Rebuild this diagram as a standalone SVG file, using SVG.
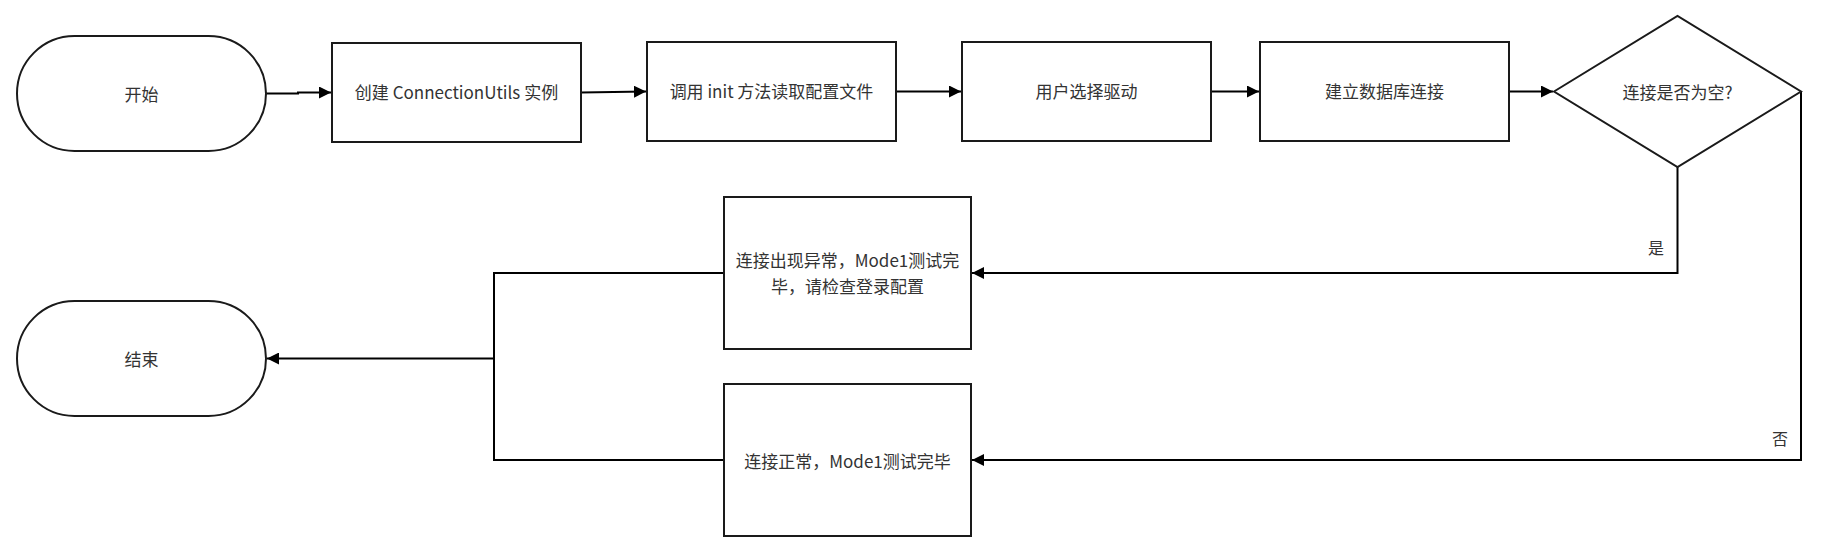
<svg xmlns="http://www.w3.org/2000/svg" width="1828" height="553" viewBox="0 0 1828 553">
<style>
.n{fill:#fff;stroke:#1a1a1a;stroke-width:2}
.t{font-family:"Noto Sans CJK SC","Noto Sans",sans-serif;font-size:17px;fill:#333;text-anchor:middle;dominant-baseline:central}
.c{fill:none;stroke:#000;stroke-width:2}
.lb{font-family:"Noto Sans CJK SC","Noto Sans",sans-serif;font-size:16px;fill:#333;text-anchor:middle;dominant-baseline:central}
</style>
<defs>
<marker id="ah" viewBox="0 0 10 10" refX="10" refY="5" markerWidth="6" markerHeight="6" markerUnits="strokeWidth" orient="auto">
<path d="M0,0 L10,5 L0,10 z" fill="#000"/>
</marker>
</defs>
<rect width="1828" height="553" fill="#fff"/>
<g id="connectors">
<path class="c" d="M266,93.5 L298,93.5 L298,92.5 L331,92.5" marker-end="url(#ah)"/>
<path class="c" d="M581,92.5 L646,91.5" marker-end="url(#ah)"/>
<path class="c" d="M896,91.5 L961,91.5" marker-end="url(#ah)"/>
<path class="c" d="M1211,91.5 L1259,91.5" marker-end="url(#ah)"/>
<path class="c" d="M1509,91.5 L1553,91.5" marker-end="url(#ah)"/>
<path class="c" d="M1677.5,167 L1677.5,273 L972,273" marker-end="url(#ah)"/>
<path class="c" d="M1801,91.5 L1801,460 L972,460" marker-end="url(#ah)"/>
<path class="c" d="M724,273 L494,273 L494,358.5 L267,358.5" marker-end="url(#ah)"/>
<path class="c" d="M724,460 L494,460 L494,358.5"/>
<text class="lb" x="1656" y="247">是</text>
<text class="lb" x="1780" y="438">否</text>
</g>
<g id="start">
<rect class="n" x="17" y="36" width="249" height="115" rx="57.5" ry="57.5"/>
<text class="t" x="141.5" y="93">开始</text>
</g>
<g id="create">
<rect class="n" x="332" y="43" width="249" height="99"/>
<text class="t" x="456.5" y="91.5">创建 ConnectionUtils 实例</text>
</g>
<g id="init">
<rect class="n" x="647" y="42" width="249" height="99"/>
<text class="t" x="771.5" y="90.5">调用 init 方法读取配置文件</text>
</g>
<g id="driver">
<rect class="n" x="962" y="42" width="249" height="99"/>
<text class="t" x="1086.5" y="90.5">用户选择驱动</text>
</g>
<g id="connect">
<rect class="n" x="1260" y="42" width="249" height="99"/>
<text class="t" x="1384.5" y="90.5">建立数据库连接</text>
</g>
<g id="decision">
<polygon class="n" points="1554,91.5 1677.5,16 1801,91.5 1677.5,167"/>
<text class="t" x="1677.5" y="91">连接是否为空?</text>
</g>
<g id="error">
<rect class="n" x="724" y="197" width="247" height="152"/>
<text class="t" x="847.5" y="259.5">连接出现异常，Mode1测试完</text>
<text class="t" x="847.5" y="285">毕，请检查登录配置</text>
</g>
<g id="ok">
<rect class="n" x="724" y="384" width="247" height="152"/>
<text class="t" x="847.5" y="460">连接正常，Mode1测试完毕</text>
</g>
<g id="end">
<rect class="n" x="17" y="301" width="249" height="115" rx="57.5" ry="57.5"/>
<text class="t" x="141.5" y="358">结束</text>
</g>
</svg>
